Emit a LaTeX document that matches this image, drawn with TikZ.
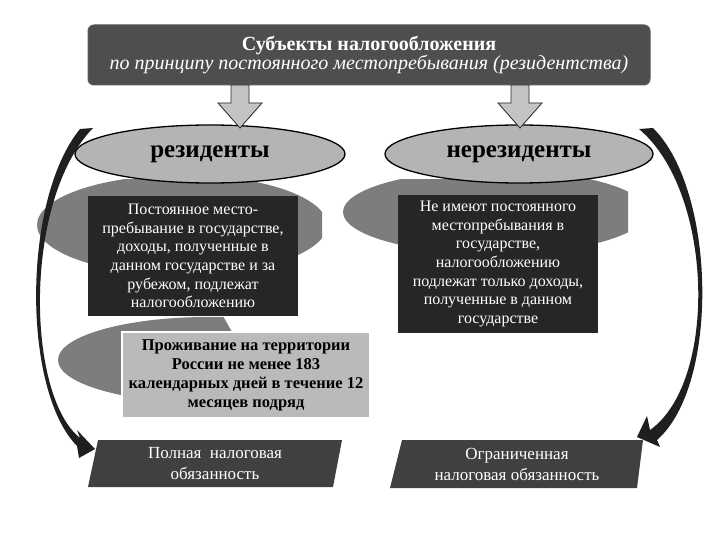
\documentclass[tikz,border=0pt]{standalone}
\usepackage{fontspec}
\setmainfont{Liberation Serif}
\usetikzlibrary{positioning,arrows.meta,shapes.geometric}

\definecolor{subjgray}{RGB}{78,78,78}
\definecolor{ovalgray}{RGB}{180,180,180}
\definecolor{boxdark}{RGB}{38,38,38}
\definecolor{lightbox}{RGB}{186,186,186}
\definecolor{backgray}{RGB}{125,125,125}
\definecolor{slabgray}{RGB}{64,64,64}
\definecolor{arrowgray}{RGB}{196,196,196}

\begin{document}
\begin{tikzpicture}[
  x=1pt, y=-1pt,
  topbox/.style={draw=gray!70!black, line width=1pt, fill=subjgray, rounded corners=6pt,
    text=white, align=center, inner sep=0pt},
  oval/.style={ellipse, draw=black, line width=1.3pt, fill=ovalgray, inner sep=0pt,
    font=\bfseries\fontsize{25}{28}\selectfont},
  darkbox/.style={fill=boxdark, text=white, align=center, inner sep=0pt,
    font=\fontsize{16}{18.6}\selectfont},
  condbox/.style={fill=lightbox, draw=white, line width=1.5pt, align=center, inner sep=0pt,
    font=\bfseries\fontsize{16.5}{19}\selectfont},
  slabtext/.style={text=white, align=center, inner sep=0pt, font=\fontsize{17}{21}\selectfont},
  slab/.style={fill=slabgray},
  backshape/.style={fill=backgray},
  blockarrow/.style={fill=arrowgray, draw=black!85, line width=0.8pt},
  curvearrow/.style={fill=black!88}
]
\useasboundingbox (0,0) rectangle (720,540);

% Серые подложки
\begin{scope}
  \clip (30,180) rectangle (322,330);
  \fill[backshape] (182,225) ellipse [x radius=145pt, y radius=50pt];
\end{scope}
\begin{scope}
  \clip (330,180) rectangle (628,330);
  \fill[backshape] (495,212) ellipse [x radius=152pt, y radius=42pt];
\end{scope}
\begin{scope}
  \clip (40,316) -- (223,316) -- (232,332) -- (232,420) -- (40,420) -- cycle;
  \fill[backshape] (208,360) ellipse [x radius=150pt, y radius=43pt];
\end{scope}

% Заголовок
\node[topbox, minimum width=562pt, minimum height=60pt] (subj) at (369,55)
  {{\bfseries\fontsize{20}{23}\selectfont Субъекты налогообложения}\\
   {\itshape\fontsize{20}{23}\selectfont по принципу постоянного местопребывания (резидентства)}};

% Резиденты / нерезиденты
\node[oval, minimum width=270pt, minimum height=58pt] (res) at (210,154) {резиденты};
\node[oval, minimum width=268pt, minimum height=58pt] (nonres) at (519,154) {нерезиденты};

% Стрелки вниз
\foreach \ax in {240,520}
  \draw[blockarrow] (\ax-9,85) -- (\ax+9,85) -- (\ax+9,103) -- (\ax+22,103)
    -- (\ax,128) -- (\ax-22,103) -- (\ax-9,103) -- cycle;

% Описания
\node[darkbox, minimum width=210pt, minimum height=120pt] (res_text) at (193,256)
  {Постоянное место-\\пребывание в государстве,\\доходы, полученные в\\данном государстве и за\\рубежом, подлежат\\налогообложению};
\node[darkbox, minimum width=200pt, minimum height=138pt] (nonres_text) at (498,264)
  {Не имеют постоянного\\местопребывания в\\государстве,\\налогообложению\\подлежат только доходы,\\полученные в данном\\государстве};

% Условие резидентства
\node[condbox, minimum width=248pt, minimum height=86pt] (cond) at (246,375)
  {Проживание на территории\\России не менее 183\\календарных дней в течение 12\\месяцев подряд};

% Налоговая обязанность
\node (full_center) at (215,464) {};
\fill[slab]
  ([xshift=-117pt, yshift=24pt] full_center.center) --
  ([xshift=127pt, yshift=24pt] full_center.center) --
  ([xshift=118pt, yshift=-23pt] full_center.center) --
  ([xshift=-127pt, yshift=-23pt] full_center.center) -- cycle;
\node[slabtext] (full_text) at (full_center) {Полная\ \ налоговая\\обязанность};

\node (limit_center) at (517,464) {};
\fill[slab]
  ([xshift=-115pt, yshift=24pt] limit_center.center) --
  ([xshift=126pt, yshift=24pt] limit_center.center) --
  ([xshift=120pt, yshift=-24pt] limit_center.center) --
  ([xshift=-127pt, yshift=-24pt] limit_center.center) -- cycle;
\node[slabtext] (limit_text) at (limit_center) {Ограниченная\\налоговая обязанность};

% Изогнутые стрелки
\fill[curvearrow] (80,129) .. controls (22,200) and (22,390) .. (77,446)
  -- (79,458) -- (95,449) -- (77,430) -- (80,438)
  .. controls (26,395) and (23,200) .. (93,128) -- cycle;
\fill[curvearrow] (653,128) .. controls (716,190) and (720,385) .. (657,440)
  -- (660,447) -- (637,437) -- (647,416) -- (650,430)
  .. controls (718,382) and (714,192) .. (639,129) -- cycle;

\end{tikzpicture}
\end{document}
